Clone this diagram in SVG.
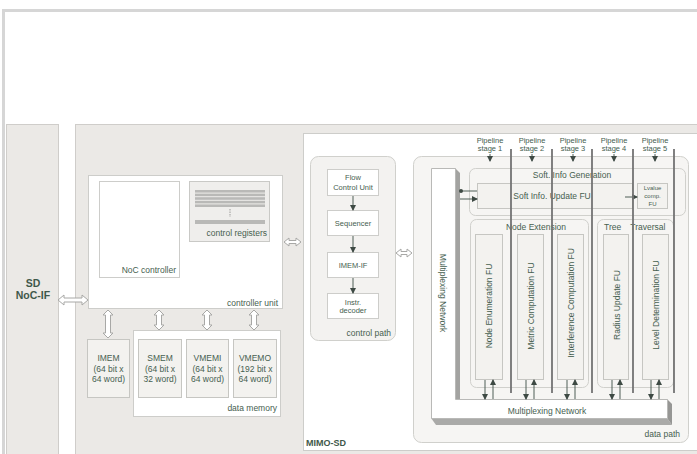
<svg xmlns="http://www.w3.org/2000/svg" width="697" height="454" viewBox="0 0 697 454">
<defs>
<style>
.t{font-family:"Liberation Sans",Arial,sans-serif;fill:#46604f;font-size:8.5px}
.tb{font-family:"Liberation Sans",Arial,sans-serif;fill:#3f584a;font-weight:bold}
.sm{font-size:7.5px}
.xs{font-size:6px}
.panel{fill:#ebe9e6;stroke:#cfcdca;stroke-width:1}
.wbox{fill:#ffffff;stroke:#cdcdca;stroke-width:1}
.ibox{fill:#f3f2ef;stroke:#c6c6c2;stroke-width:1}
.rbox{fill:#f6f5f3;stroke:#d0d0cc;stroke-width:1}
.dbl{fill:#ffffff;stroke:#a8a8a6;stroke-width:1}
.sep{stroke:#737373;stroke-width:1.8}
.ln{stroke:#4e5e56;stroke-width:1;fill:none}
</style>
<marker id="ah" viewBox="0 0 6 6" refX="5" refY="3" markerWidth="6" markerHeight="6" orient="auto" markerUnits="userSpaceOnUse">
<path d="M0,0 L6,3 L0,6 Z" fill="#3e4a44"/>
</marker>
<marker id="dot" viewBox="0 0 4 4" refX="2" refY="2" markerWidth="4" markerHeight="4" markerUnits="userSpaceOnUse">
<circle cx="2" cy="2" r="2" fill="#3e4a44"/>
</marker>
</defs>
<rect x="0" y="0" width="697" height="454" fill="#ffffff"/>
<rect x="3.5" y="10.5" width="700" height="460" fill="none" stroke="#d6d6d6" stroke-width="3"/>

<g id="sd-noc-if">
<rect class="panel" x="6.5" y="124.5" width="52" height="340"/>
<text class="tb" x="33" y="287" font-size="10.5" text-anchor="middle">SD</text>
<text class="tb" x="33" y="299" font-size="10.5" text-anchor="middle">NoC-IF</text>
</g>

<g id="main-panel">
<rect class="panel" x="75.5" y="124.5" width="630" height="340"/>
</g>

<g id="controller-unit">
<rect class="wbox" x="88.5" y="175.5" width="194" height="133"/>
<text class="t" x="278" y="305.5" text-anchor="end">controller unit</text>
</g>
<g id="noc-controller">
<rect class="wbox" x="99.5" y="181.5" width="80" height="96"/>
<text class="t" x="176" y="273" text-anchor="end">NoC controller</text>
</g>
<g id="control-registers">
<rect x="189.5" y="181.5" width="80" height="60" fill="#efeeec" stroke="#c9c9c6"/>
<g fill="#b9b9b7">
<rect x="195" y="190" width="70" height="2.6"/>
<rect x="195" y="193.6" width="70" height="2.6"/>
<rect x="195" y="197.2" width="70" height="2.6"/>
<rect x="195" y="200.8" width="70" height="2.6"/>
<rect x="195" y="204.4" width="70" height="2.6"/>
<rect x="195" y="220" width="70" height="4"/>
</g>
<line x1="230" y1="209" x2="230" y2="217" stroke="#9a9a98" stroke-width="1" stroke-dasharray="1.5,1"/>
<text class="t" x="267" y="236" text-anchor="end">control registers</text>
</g>

<g id="data-memory">
<rect class="wbox" x="133.5" y="330.5" width="147" height="86"/>
<text class="t" x="277" y="411" text-anchor="end">data memory</text>
</g>
<g id="imem">
<rect class="ibox" x="87.5" y="339.5" width="42" height="58"/>
<text class="t" x="108.5" y="361" text-anchor="middle">IMEM</text>
<text class="t" x="108.5" y="372" text-anchor="middle">(64 bit x</text>
<text class="t" x="108.5" y="382" text-anchor="middle">64 word)</text>
</g>
<g id="smem">
<rect class="ibox" x="138.5" y="339.5" width="43" height="58"/>
<text class="t" x="160" y="361" text-anchor="middle">SMEM</text>
<text class="t" x="160" y="372" text-anchor="middle">(64 bit x</text>
<text class="t" x="160" y="382" text-anchor="middle">32 word)</text>
</g>
<g id="vmemi">
<rect class="ibox" x="186.5" y="339.5" width="42" height="58"/>
<text class="t" x="207.5" y="361" text-anchor="middle">VMEMI</text>
<text class="t" x="207.5" y="372" text-anchor="middle">(64 bit x</text>
<text class="t" x="207.5" y="382" text-anchor="middle">64 word)</text>
</g>
<g id="vmemo">
<rect class="ibox" x="233.5" y="339.5" width="43" height="58"/>
<text class="t" x="255" y="361" text-anchor="middle">VMEMO</text>
<text class="t" x="255" y="372" text-anchor="middle">(192 bit x</text>
<text class="t" x="255" y="382" text-anchor="middle">64 word)</text>
</g>

<g id="mimo-sd">
<rect class="wbox" x="303.5" y="133.5" width="400" height="317"/>
<text class="tb" x="306" y="445.5" font-size="9">MIMO-SD</text>
</g>

<g id="control-path">
<rect x="310.5" y="156.5" width="85" height="184" rx="8" fill="#f3f2f0" stroke="#d0d0cc"/>
<text class="t" x="391" y="336" text-anchor="end">control path</text>
</g>
<g id="flow-control-unit">
<rect class="wbox" x="327.5" y="169.5" width="51" height="26"/>
<text class="t sm" x="353" y="180" text-anchor="middle">Flow</text>
<text class="t sm" x="353" y="190" text-anchor="middle">Control Unit</text>
</g>
<g id="sequencer">
<rect class="wbox" x="327.5" y="210.5" width="51" height="25"/>
<text class="t sm" x="353" y="226" text-anchor="middle">Sequencer</text>
</g>
<g id="imem-if">
<rect class="wbox" x="327.5" y="252.5" width="51" height="25"/>
<text class="t sm" x="353" y="268" text-anchor="middle" fill="#3d7a52">IMEM-IF</text>
</g>
<g id="instr-decoder">
<rect class="wbox" x="327.5" y="293.5" width="51" height="25"/>
<text class="t sm" x="353" y="304.5" text-anchor="middle">Instr.</text>
<text class="t sm" x="353" y="313" text-anchor="middle">decoder</text>
</g>

<g id="data-path">
<rect x="413.5" y="156.5" width="275" height="286" rx="8" fill="#f6f5f3" stroke="#d0d0cc"/>
<text class="t" x="680" y="437" text-anchor="end">data path</text>
</g>

<g id="multiplexing-network">
<path d="M455,168 L460,173 L460,399 L455,399 Z" fill="#a3a3a1"/>
<path d="M431,418 L667,418 L672,425 L436,425 Z" fill="#aaaaa8"/>
<path d="M667,399 L672,404 L672,425 L667,418 Z" fill="#969694"/>
<path d="M431.5,168.5 L455.5,168.5 L455.5,399.5 L667.5,399.5 L667.5,418.5 L431.5,418.5 Z" fill="#ffffff" stroke="#b9b9b7"/>
<text class="t" x="547" y="414" text-anchor="middle">Multiplexing Network</text>
<text class="t" transform="translate(443,293) rotate(90)" text-anchor="middle" dy="3">Multiplexing Network</text>
</g>

<g id="soft-info-generation">
<rect class="rbox" x="469.5" y="168.5" width="216" height="47" rx="6"/>
<text class="t" x="572" y="178" text-anchor="middle">Soft. Info Generation</text>
</g>
<g id="soft-info-update-fu">
<rect class="ibox" x="477.5" y="183.5" width="155" height="25"/>
<text class="t" x="552" y="199" text-anchor="middle">Soft Info. Update FU</text>
</g>
<g id="lvalue-comp-fu">
<rect class="ibox" x="637.5" y="183.5" width="30" height="25"/>
<text class="t xs" x="652.5" y="189.5" text-anchor="middle">Lvalue</text>
<text class="t xs" x="652.5" y="198" text-anchor="middle">comp.</text>
<text class="t xs" x="652.5" y="206" text-anchor="middle">FU</text>
</g>

<g id="node-extension">
<rect class="rbox" x="470.5" y="219.5" width="118" height="168" rx="6"/>
<text class="t" x="536" y="229.5" text-anchor="middle">Node Extension</text>
</g>
<g id="tree-traversal">
<rect class="rbox" x="597.5" y="219.5" width="76" height="168" rx="6"/>
<text class="t" x="604" y="229.5" word-spacing="7">Tree Traversal</text>
</g>
<g id="node-enumeration-fu">
<rect class="ibox" x="475.5" y="234.5" width="27" height="145"/>
<text class="t" transform="translate(489,306) rotate(-90)" text-anchor="middle" dy="3">Node Enumeration FU</text>
</g>
<g id="metric-computation-fu">
<rect class="ibox" x="517.5" y="234.5" width="26" height="145"/>
<text class="t" transform="translate(531,306) rotate(-90)" text-anchor="middle" dy="3">Metric Computation FU</text>
</g>
<g id="interference-computation-fu">
<rect class="ibox" x="557.5" y="234.5" width="26" height="145"/>
<text class="t" transform="translate(571,303) rotate(-90)" text-anchor="middle" dy="3">Interference Computation FU</text>
</g>
<g id="radius-update-fu">
<rect class="ibox" x="603.5" y="234.5" width="25" height="145"/>
<text class="t" transform="translate(616.5,305) rotate(-90)" text-anchor="middle" dy="3">Radius Update FU</text>
</g>
<g id="level-determination-fu">
<rect class="ibox" x="642.5" y="234.5" width="26" height="145"/>
<text class="t" transform="translate(656,305) rotate(-90)" text-anchor="middle" dy="3">Level Determination FU</text>
</g>

<g id="pipeline-labels">
<text class="t sm" x="490" y="143" text-anchor="middle">Pipeline</text>
<text class="t sm" x="490" y="151" text-anchor="middle">stage 1</text>
<text class="t sm" x="532" y="143" text-anchor="middle">Pipeline</text>
<text class="t sm" x="532" y="151" text-anchor="middle">stage 2</text>
<text class="t sm" x="573" y="143" text-anchor="middle">Pipeline</text>
<text class="t sm" x="573" y="151" text-anchor="middle">stage 3</text>
<text class="t sm" x="614" y="143" text-anchor="middle">Pipeline</text>
<text class="t sm" x="614" y="151" text-anchor="middle">stage 4</text>
<text class="t sm" x="655" y="143" text-anchor="middle">Pipeline</text>
<text class="t sm" x="655" y="151" text-anchor="middle">stage 5</text>
</g>

<g id="connectors">
<path class="dbl" d="M58,300 L64,295 L64,298 L82,298 L82,295 L88,300 L82,305 L82,302 L64,302 L64,305 Z"/>
<path class="dbl" d="M284,242 L289,238 L289,240.5 L296,240.5 L296,238 L301,242 L296,246 L296,243.5 L289,243.5 L289,246 Z"/>
<path class="dbl" d="M396,253 L401,249 L401,251.5 L407,251.5 L407,249 L412,253 L407,257 L407,254.5 L401,254.5 L401,257 Z"/>
<path class="dbl" d="M108,310 L113,315 L110.5,315 L110.5,333 L113,333 L108,338 L103,333 L105.5,333 L105.5,315 L103,315 Z"/>
<path class="dbl" d="M159,310 L164,315 L161.5,315 L161.5,325 L164,325 L159,330 L154,325 L156.5,325 L156.5,315 L154,315 Z"/>
<path class="dbl" d="M207,310 L212,315 L209.5,315 L209.5,325 L212,325 L207,330 L202,325 L204.5,325 L204.5,315 L202,315 Z"/>
<path class="dbl" d="M254,310 L259,315 L256.5,315 L256.5,325 L259,325 L254,330 L249,325 L251.5,325 L251.5,315 L249,315 Z"/>
<line class="ln" x1="353" y1="196" x2="353" y2="210" marker-end="url(#ah)"/>
<line class="ln" x1="353" y1="236" x2="353" y2="252" marker-end="url(#ah)"/>
<line class="ln" x1="353" y1="278" x2="353" y2="293" marker-end="url(#ah)"/>
<line class="ln" x1="490" y1="154" x2="490" y2="161" marker-end="url(#ah)"/>
<line class="ln" x1="532" y1="154" x2="532" y2="161" marker-end="url(#ah)"/>
<line class="ln" x1="573" y1="154" x2="573" y2="161" marker-end="url(#ah)"/>
<line class="ln" x1="614" y1="154" x2="614" y2="161" marker-end="url(#ah)"/>
<line class="ln" x1="655" y1="154" x2="655" y2="161" marker-end="url(#ah)"/>
<line class="ln" x1="477" y1="191" x2="461" y2="191" marker-end="url(#dot)"/>
<line class="ln" x1="460" y1="199" x2="477" y2="199" marker-end="url(#ah)"/>
<line class="ln" x1="625" y1="197" x2="637" y2="197" marker-end="url(#ah)"/>
<line class="ln" x1="485" y1="380" x2="485" y2="399" marker-end="url(#ah)"/>
<line class="ln" x1="493" y1="399" x2="493" y2="380" marker-end="url(#ah)"/>
<line class="ln" x1="526" y1="380" x2="526" y2="399" marker-end="url(#ah)"/>
<line class="ln" x1="534" y1="399" x2="534" y2="380" marker-end="url(#ah)"/>
<line class="ln" x1="567" y1="380" x2="567" y2="399" marker-end="url(#ah)"/>
<line class="ln" x1="575" y1="399" x2="575" y2="380" marker-end="url(#ah)"/>
<line class="ln" x1="612" y1="380" x2="612" y2="399" marker-end="url(#ah)"/>
<line class="ln" x1="620" y1="399" x2="620" y2="380" marker-end="url(#ah)"/>
<line class="ln" x1="651" y1="380" x2="651" y2="399" marker-end="url(#ah)"/>
<line class="ln" x1="659" y1="399" x2="659" y2="380" marker-end="url(#ah)"/>
<line class="sep" x1="511" y1="149" x2="511" y2="393"/>
<line class="sep" x1="552" y1="149" x2="552" y2="393"/>
<line class="sep" x1="592" y1="149" x2="592" y2="393"/>
<line class="sep" x1="633" y1="149" x2="633" y2="393"/>
<line class="sep" x1="674" y1="149" x2="674" y2="393"/>
</g>
</svg>
